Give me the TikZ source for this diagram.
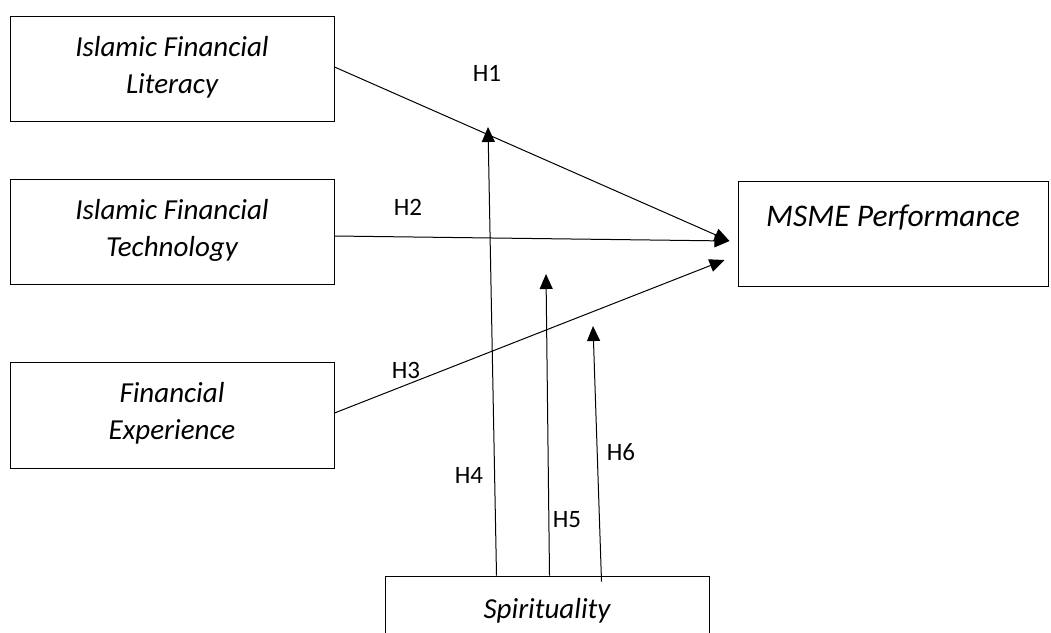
\documentclass[tikz,border=0pt]{standalone}
\usepackage{fontspec}
\setmainfont{Carlito}
\usetikzlibrary{arrows.meta,calc}
\newcommand{\boxtext}[2][0pt]{\raisebox{#1}[\height][\depth]{\begin{tabular}{@{}c@{}}#2\end{tabular}}}
\begin{document}
\begin{tikzpicture}[x=1pt,y=-1pt,
  box/.style={draw=black,line width=1pt,inner sep=0pt,minimum width=324pt,minimum height=105pt,
    font=\fontsize{29}{37}\selectfont\itshape},
  hlabel/.style={font=\fontsize{25}{30}\selectfont,inner sep=0pt},
  conn/.style={line width=1pt,-{Triangle[length=15pt,width=13pt]}}]
\clip (0,0) rectangle (1051,632);
\fill[white] (0,0) rectangle (1051,632);

\node[box] (lit) at (172,69) {\boxtext[1pt]{Islamic Financial\\Literacy}};
\node[box] (tech) at (172,231.5) {\boxtext[1pt]{Islamic Financial\\Technology}};
\node[box,minimum height=106pt] (exp) at (172,415) {\boxtext[1pt]{Financial\\Experience}};
\node[box,minimum width=310pt,font=\fontsize{31.5}{37}\selectfont\itshape] (msme) at (893,233.5) {\boxtext[14pt]{MSME Performance}};
\node[box,minimum height=74pt] (spir) at (547,613) {\boxtext[2pt]{Spirituality}};

\coordinate (e1) at ($(msme.west)+(-8,7.5)$);
\coordinate (e2) at ($(msme.west)+(-13,26.5)$);
\coordinate (t4) at (488,127);
\coordinate (t5) at (546,274);
\coordinate (t6) at (593,326);

\draw[conn] ($(lit.east)+(0,-2)$) -- (e1);
\draw[conn] ($(tech.east)+(0,4.5)$) -- (e1);
\draw[conn] ($(exp.east)+(0,-2)$) -- (e2);
\draw[conn] ($(spir.north west)+(112,0)$) -- (t4);
\draw[conn] ($(spir.north west)+(165,0)$) -- (t5);
\draw[conn] ($(spir.north west)+(217,6)$) -- (t6);

\node[hlabel] (h1) at (487,73) {H1};
\node[hlabel] (h2) at (408,207) {H2};
\node[hlabel] (h3) at (406,370) {H3};
\node[hlabel] (h4) at (469,475) {H4};
\node[hlabel] (h5) at (567,520) {H5};
\node[hlabel] (h6) at (621,452) {H6};
\end{tikzpicture}
\end{document}
